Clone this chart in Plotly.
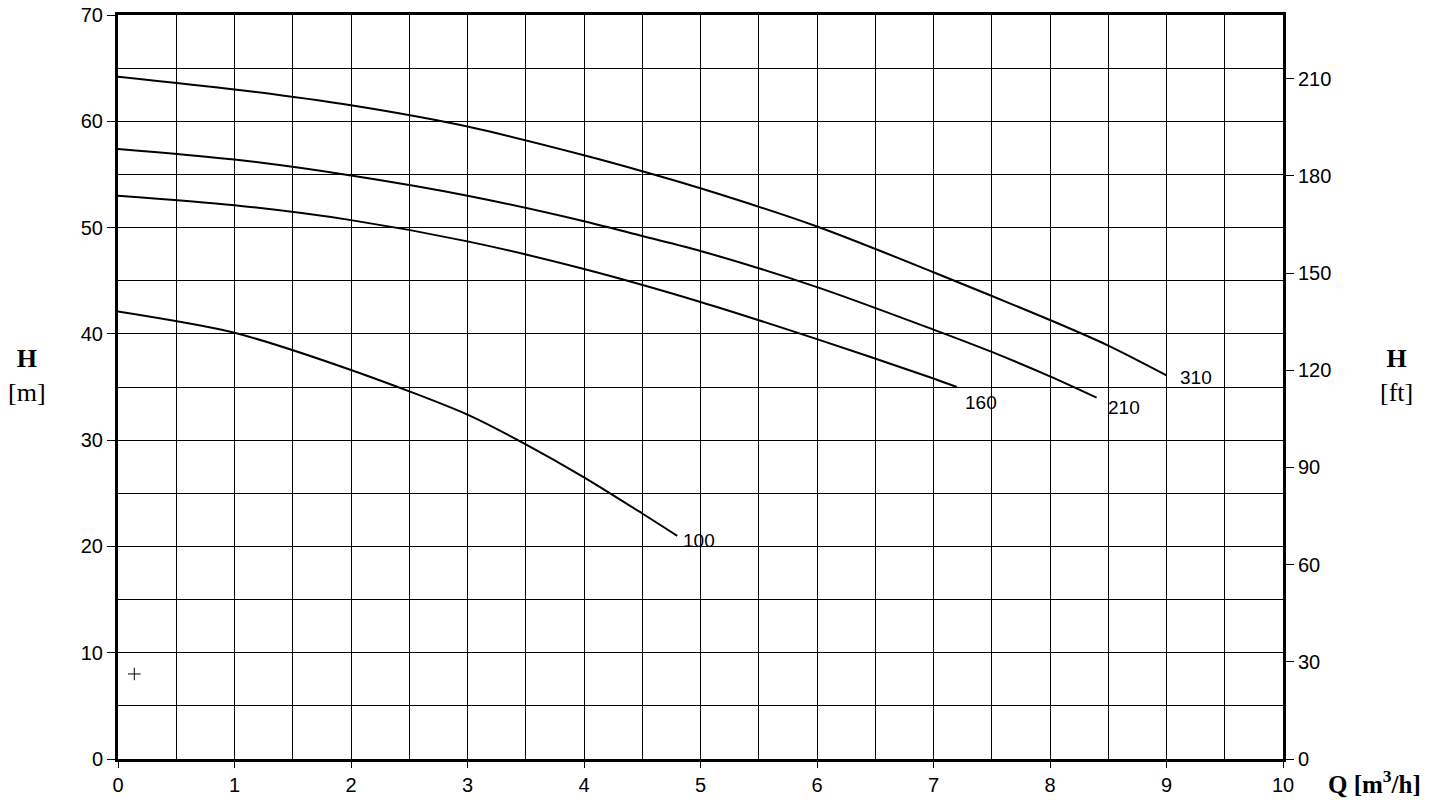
import plotly.graph_objects as go

# Q [m3/h] and H [m] for each curve
Q_310 = [0, 1, 2, 3, 4, 4.5, 5, 6, 7, 8, 8.5, 9]
H_310 = [64.2, 63.0, 61.5, 59.5, 56.8, 55.3, 53.7, 50.1, 45.8, 41.3, 38.9, 36.1]

Q_210 = [0, 1, 2, 3, 4, 4.5, 5, 6, 7, 7.5, 8, 8.4]
H_210 = [57.4, 56.4, 54.9, 53.0, 50.6, 49.2, 47.8, 44.4, 40.4, 38.3, 36.0, 34.0]

Q_160 = [0, 1, 2, 3, 4, 5, 6, 7, 7.2]
H_160 = [53.0, 52.1, 50.7, 48.7, 46.1, 43.0, 39.5, 35.8, 35.0]

Q_100 = [0, 1, 2, 3, 3.5, 4, 4.5, 4.8]
H_100 = [42.1, 40.1, 36.6, 32.4, 29.6, 26.5, 23.1, 21.0]

curvas = [
    ("310", Q_310, H_310),
    ("210", Q_210, H_210),
    ("160", Q_160, H_160),
    ("100", Q_100, H_100),
]
# posición de las etiquetas (Q, H)
etiquetas = {"310": (9.1, 35.9), "210": (8.48, 33.1), "160": (7.25, 33.5), "100": (4.83, 20.6)}

M_A_FT = 3.28084
fuente = "Liberation Sans, Arial, sans-serif"
serif = "Liberation Serif, Times New Roman, serif"

fig = go.Figure()

for nombre, q, h in curvas:
    fig.add_trace(go.Scatter(
        x=q, y=h, mode="lines", line=dict(color="black", width=2, shape="spline", smoothing=0.8),
        hoverinfo="skip", showlegend=False
    ))
    qx, hy = etiquetas[nombre]
    fig.add_annotation(x=qx, y=hy, text=nombre, showarrow=False, xanchor="left", yanchor="middle",
                       font=dict(family=fuente, size=19, color="black"))

# pequeña cruz en el gráfico
fig.add_trace(go.Scatter(
    x=[0.14], y=[8.0], mode="markers",
    marker=dict(symbol="cross-thin", size=9, line=dict(color="black", width=1)),
    hoverinfo="skip", showlegend=False
))

# eje derecho en pies
fig.add_trace(go.Scatter(x=[0], y=[0], yaxis="y2", mode="markers", marker=dict(opacity=0),
                         hoverinfo="skip", showlegend=False))

# la página añade 8 px de margen al cuerpo: se compensa en ancho/alto y márgenes
fig.update_layout(
    width=1434, height=792,
    paper_bgcolor="white", plot_bgcolor="white",
    margin=dict(l=110, r=159, t=7, b=41, autoexpand=False),
    xaxis=dict(
        range=[0, 10], dtick=1, tick0=0,
        showgrid=True, gridcolor="black", gridwidth=1,
        minor=dict(dtick=0.5, showgrid=True, gridcolor="black", gridwidth=1),
        showline=True, linecolor="black", linewidth=3, mirror=True,
        ticks="outside", ticklen=6, tickcolor="black",
        tickfont=dict(family=fuente, size=20, color="black"),
        ticklabeloverflow="allow", zeroline=False,
    ),
    yaxis=dict(
        range=[0, 70], dtick=10, tick0=0,
        showgrid=True, gridcolor="black", gridwidth=1,
        minor=dict(dtick=5, showgrid=True, gridcolor="black", gridwidth=1),
        showline=True, linecolor="black", linewidth=3, mirror=True,
        ticks="outside", ticklen=8, tickcolor="black",
        tickfont=dict(family=fuente, size=20, color="black"),
        ticklabeloverflow="allow", zeroline=False,
    ),
    yaxis2=dict(
        overlaying="y", side="right", range=[0, 70 * M_A_FT],
        tickvals=[0, 30, 60, 90, 120, 150, 180, 210],
        showgrid=False, zeroline=False,
        showline=True, linecolor="black", linewidth=3,
        ticks="outside", ticklen=8, tickcolor="black",
        tickfont=dict(family=fuente, size=20, color="black"),
        ticklabeloverflow="allow",
    ),
)

# títulos de ejes
fig.add_annotation(xref="paper", yref="paper", x=-0.078, y=0.516, text="<b>H</b><br>[m]", showarrow=False,
                   xanchor="center", yanchor="middle",
                   font=dict(family=serif, size=26, color="black"), align="center")
fig.add_annotation(xref="paper", yref="paper", x=1.097, y=0.516, text="<b>H</b><br>[ft]", showarrow=False,
                   xanchor="center", yanchor="middle",
                   font=dict(family=serif, size=26, color="black"), align="center")
fig.add_annotation(xref="paper", yref="paper", x=1.037, y=-0.031, text="<b>Q [m<sup>3</sup>/h]</b>",
                   showarrow=False, xanchor="left", yanchor="middle",
                   font=dict(family=serif, size=25, color="black"))

fig.write_html("out.html")
